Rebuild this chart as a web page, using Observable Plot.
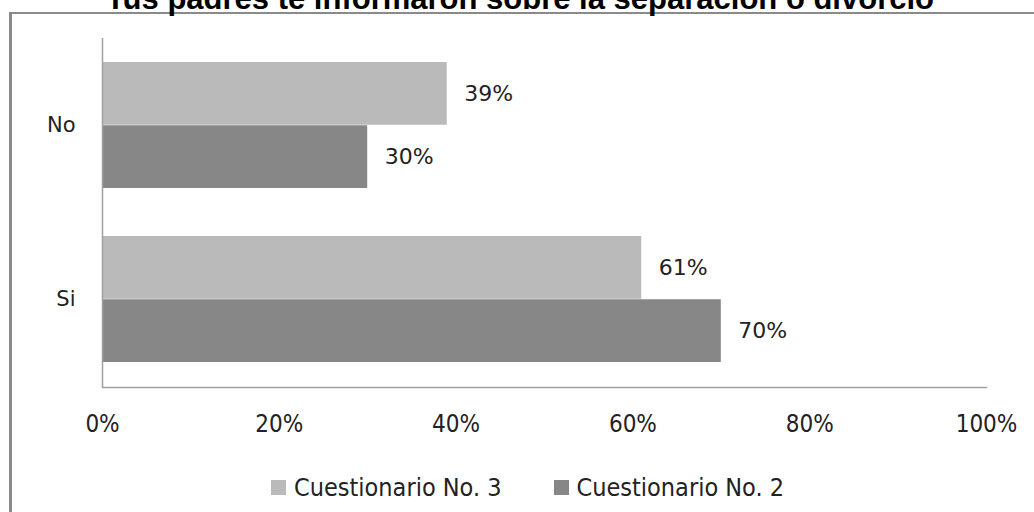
<!DOCTYPE html>
<html>
<head>
<meta charset="utf-8">
<script src="https://cdn.jsdelivr.net/npm/d3@7"></script>
<script src="https://cdn.jsdelivr.net/npm/@observablehq/plot@0.6"></script>
<style>
  html, body { margin: 0; padding: 0; background: #fff; }
  #wrap { position: relative; width: 1034px; height: 512px; overflow: hidden; background: #fff; }
  #box { position: absolute; left: 9px; top: 12px; width: 1100px; height: 600px;
         border-left: 3px solid #8a8a8a; border-top: 2px solid #8a8a8a; }
  #title { position: absolute; left: 0; width: 1040px; top: -17px; text-align: center;
           font: bold 31px "Liberation Sans", Arial, sans-serif; line-height: 31px; color: #000; }
  #chart { position: absolute; left: 0; top: 0; }
  #legend { position: absolute; top: 473px; left: 271px; display: flex;
            font: 25px "DejaVu Sans Condensed", "DejaVu Sans", sans-serif; color: #222; }
  #legend .item { display: flex; align-items: center; margin-right: 52px; }
  #legend .sw { width: 15px; height: 15px; margin-right: 8px; }
</style>
</head>
<body>
<div id="wrap">
  <div id="box"></div>
  <div id="title">Tus padres te informaron sobre la separación o divorcio</div>
  <div id="chart"></div>
  <div id="legend"></div>
</div>
<script>
const categories = ["No", "Si"];
const series = ["Cuestionario No. 3", "Cuestionario No. 2"];
const colors = ["#bababa", "#878787"];
const valuesQ3 = [39, 61];
const valuesQ2 = [30, 70];
const xTicks = [0, 20, 40, 60, 80, 100];

const data = [];
categories.forEach((c, i) => {
  data.push({cat: c, series: series[0], value: valuesQ3[i]});
  data.push({cat: c, series: series[1], value: valuesQ2[i]});
});

const H = 450, mT = 38, mB = 63;
const half = (H - mT - mB) / 2 * (1 - 0.275) / 2; // half of band

const first = data.filter(d => d.series === series[0]);
const second = data.filter(d => d.series === series[1]);

const marks = [
  Plot.barX(first, {x: "value", y: "cat", fill: colors[0], insetBottom: half}),
  Plot.barX(second, {x: "value", y: "cat", fill: colors[1], insetTop: half}),
  Plot.text(first, {x: "value", y: "cat", text: d => d.value + "%", dx: 17, dy: -half / 2, textAnchor: "start",
    fontSize: 22, fill: "#222", fontFamily: "DejaVu Sans, sans-serif"}),
  Plot.text(second, {x: "value", y: "cat", text: d => d.value + "%", dx: 17, dy: half / 2, textAnchor: "start",
    fontSize: 22, fill: "#222", fontFamily: "DejaVu Sans, sans-serif"}),
  Plot.ruleX([0], {stroke: "#a0a0a0", strokeWidth: 1.5}),
  Plot.frame({anchor: "bottom", stroke: "#a0a0a0", strokeWidth: 1.5}),
  Plot.axisX({ticks: xTicks, tickSize: 0, tickPadding: 27, tickFormat: d => d + "%",
    fontSize: 24, fontFamily: "DejaVu Sans Condensed, DejaVu Sans, sans-serif", fill: "#222"}),
  Plot.axisY({tickSize: 0, tickPadding: 27, fontSize: 21, letterSpacing: 1.5, fontFamily: "DejaVu Sans, sans-serif", fill: "#222"})
];

const chart = Plot.plot({
  width: 1034,
  height: H,
  marginTop: mT,
  marginBottom: mB,
  marginLeft: 102,
  marginRight: 48,
  style: {background: "transparent", overflow: "visible"},
  x: {domain: [0, 100], label: null},
  y: {domain: categories, paddingInner: 0.275, paddingOuter: 0.1375, label: null},
  marks
});
document.getElementById("chart").appendChild(chart);

const leg = document.getElementById("legend");
series.forEach((s, i) => {
  const item = document.createElement("div");
  item.className = "item";
  const sw = document.createElement("div");
  sw.className = "sw";
  sw.style.background = colors[i];
  const t = document.createElement("span");
  t.textContent = s;
  item.appendChild(sw); item.appendChild(t);
  leg.appendChild(item);
});
</script>
</body>
</html>
